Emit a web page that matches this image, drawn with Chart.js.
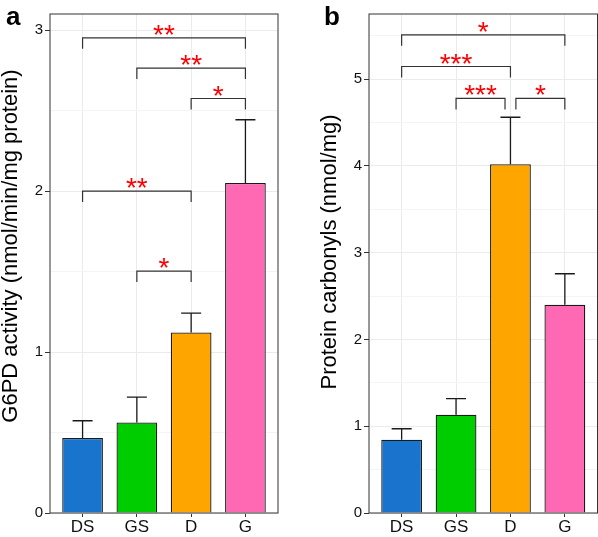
<!DOCTYPE html>
<html>
<head>
<meta charset="utf-8">
<script src="https://cdn.jsdelivr.net/npm/chart.js@4.4.0/dist/chart.umd.min.js"></script>
<style>
  body { margin: 0; background: #fff; }
  #wrap { position: relative; width: 598px; height: 537px; overflow: hidden; }
  #wrap canvas { position: absolute; top: 0; }
  .letter { position: absolute; font: bold 26px "Liberation Sans", Arial, sans-serif; color: #000; line-height: 1; }
</style>
</head>
<body>
<div id="wrap">
  <canvas id="chartA" width="300" height="537" style="left:0"></canvas>
  <canvas id="chartB" width="298" height="537" style="left:300px"></canvas>
  <div class="letter" style="left:6px;top:3px">a</div>
  <div class="letter" style="left:324px;top:3px">b</div>
</div>
<script>
const groups = ['DS', 'GS', 'D', 'G'];
const barColors = ['#1874CD', '#00CD00', '#FFA500', '#FF69B4'];

// panel a - G6PD activity
const g6pdMean = [0.466, 0.563, 1.122, 2.050];
const g6pdUpper = [0.573, 0.720, 1.242, 2.443];
const g6pdSigFrom = [0, 1, 2, 0, 1];
const g6pdSigTo = [3, 3, 3, 2, 2];
const g6pdSigY = [2.952, 2.764, 2.575, 2.0, 1.503];
const g6pdSigText = ['**', '**', '*', '**', '*'];

// panel b - protein carbonyls
const carbMean = [0.845, 1.132, 4.02, 2.40];
const carbUpper = [0.971, 1.317, 4.56, 2.757];
const carbSigFrom = [0, 0, 1, 2.1];
const carbSigTo = [3, 2, 1.9, 3];
const carbSigY = [5.51, 5.145, 4.777, 4.777];
const carbSigText = ['*', '***', '***', '*'];

const FONT = '"Liberation Sans", Arial, sans-serif';

// error bars, significance brackets, panel border and y title
const decor = {
  id: 'decor',
  afterDatasetsDraw(chart, args, opts) {
    const { ctx, chartArea: area, scales: { x, y } } = chart;
    ctx.save();

    ctx.strokeStyle = '#1a1a1a';
    ctx.lineWidth = 1.3;
    opts.upper.forEach((u, i) => {
      const px = x.getPixelForValue(i);
      const y0 = y.getPixelForValue(opts.mean[i]);
      const y1 = y.getPixelForValue(u);
      ctx.beginPath();
      ctx.moveTo(px, y0); ctx.lineTo(px, y1);
      ctx.moveTo(px - 10, y1); ctx.lineTo(px + 10, y1);
      ctx.stroke();
    });

    ctx.strokeStyle = '#333';
    ctx.lineWidth = 1.2;
    ctx.fillStyle = '#FF0000';
    ctx.font = '28px ' + FONT;
    ctx.textAlign = 'center';
    ctx.textBaseline = 'alphabetic';
    opts.sigFrom.forEach((f, i) => {
      const x0 = x.getPixelForValue(f);
      const x1 = x.getPixelForValue(opts.sigTo[i]);
      const py = y.getPixelForValue(opts.sigY[i]);
      ctx.beginPath();
      ctx.moveTo(x0, py + 11); ctx.lineTo(x0, py);
      ctx.lineTo(x1, py); ctx.lineTo(x1, py + 11);
      ctx.stroke();
      ctx.fillText(opts.sigText[i], (x0 + x1) / 2, py + 6);
    });

    ctx.strokeStyle = '#333';
    ctx.lineWidth = 1;
    ctx.strokeRect(area.left, area.top, area.right - area.left, area.bottom - area.top);
    ctx.restore();
  },
  afterDraw(chart, args, opts) {
    const ctx = chart.ctx;
    ctx.save();
    ctx.translate(opts.titleX, opts.titleY);
    ctx.rotate(-Math.PI / 2);
    ctx.font = '22px ' + FONT;
    ctx.fillStyle = '#000';
    ctx.textAlign = 'center';
    ctx.textBaseline = 'middle';
    ctx.fillText(opts.title, 0, 0);
    ctx.restore();
  }
};

function makeChart(id, mean, yMax, yWidth, padRight, decorOpts) {
  const isMajor = v => Math.abs(v - Math.round(v)) < 1e-6;
  return new Chart(document.getElementById(id), {
    type: 'bar',
    data: {
      datasets: [{
        data: mean.map((v, i) => ({ x: i, y: v })),
        backgroundColor: barColors,
        borderColor: '#1a1a1a',
        borderWidth: 1.3,
        barPercentage: 0.75,
        categoryPercentage: 1
      }]
    },
    options: {
      responsive: false,
      animation: false,
      layout: { padding: { left: 0, top: 14, right: padRight, bottom: 0 } },
      plugins: {
        legend: { display: false },
        tooltip: { enabled: false },
        decor: decorOpts
      },
      scales: {
        x: {
          type: 'linear',
          min: -0.6,
          max: 3.6,
          offset: false,
          afterBuildTicks: s => { s.ticks = groups.map((g, i) => ({ value: i })); },
          afterFit: s => { s.height = 24; },
          border: { display: false },
          grid: { offset: false, color: '#ebebeb', lineWidth: 1, tickColor: '#333', tickLength: 4 },
          ticks: {
            callback: v => groups[v],
            autoSkip: false,
            maxRotation: 0,
            padding: 0,
            color: '#111',
            font: { family: FONT, size: 17 }
          }
        },
        y: {
          min: 0,
          max: yMax,
          afterBuildTicks: s => {
            const t = [];
            for (let v = 0; v <= yMax + 1e-6; v += 0.5) t.push({ value: v });
            s.ticks = t;
          },
          afterFit: s => { s.width = yWidth; },
          border: { display: false },
          grid: {
            color: c => isMajor(c.tick.value) ? '#ebebeb' : '#f4f4f4',
            lineWidth: 1,
            tickColor: c => isMajor(c.tick.value) ? '#333' : 'rgba(0,0,0,0)',
            tickLength: 5
          },
          ticks: {
            callback: v => isMajor(v) ? String(Math.round(v)) : '',
            padding: 2,
            color: '#111',
            font: { family: FONT, size: 15 }
          }
        }
      }
    },
    plugins: [decor]
  });
}

makeChart('chartA', g6pdMean, 3.1, 50, 22, {
  mean: g6pdMean, upper: g6pdUpper,
  sigFrom: g6pdSigFrom, sigTo: g6pdSigTo, sigY: g6pdSigY, sigText: g6pdSigText,
  title: 'G6PD activity (nmol/min/mg protein)', titleX: 11, titleY: 246
});

makeChart('chartB', carbMean, 5.75, 69, 0.5, {
  mean: carbMean, upper: carbUpper,
  sigFrom: carbSigFrom, sigTo: carbSigTo, sigY: carbSigY, sigText: carbSigText,
  title: 'Protein carbonyls (nmol/mg)', titleX: 30, titleY: 252
});
</script>
</body>
</html>
